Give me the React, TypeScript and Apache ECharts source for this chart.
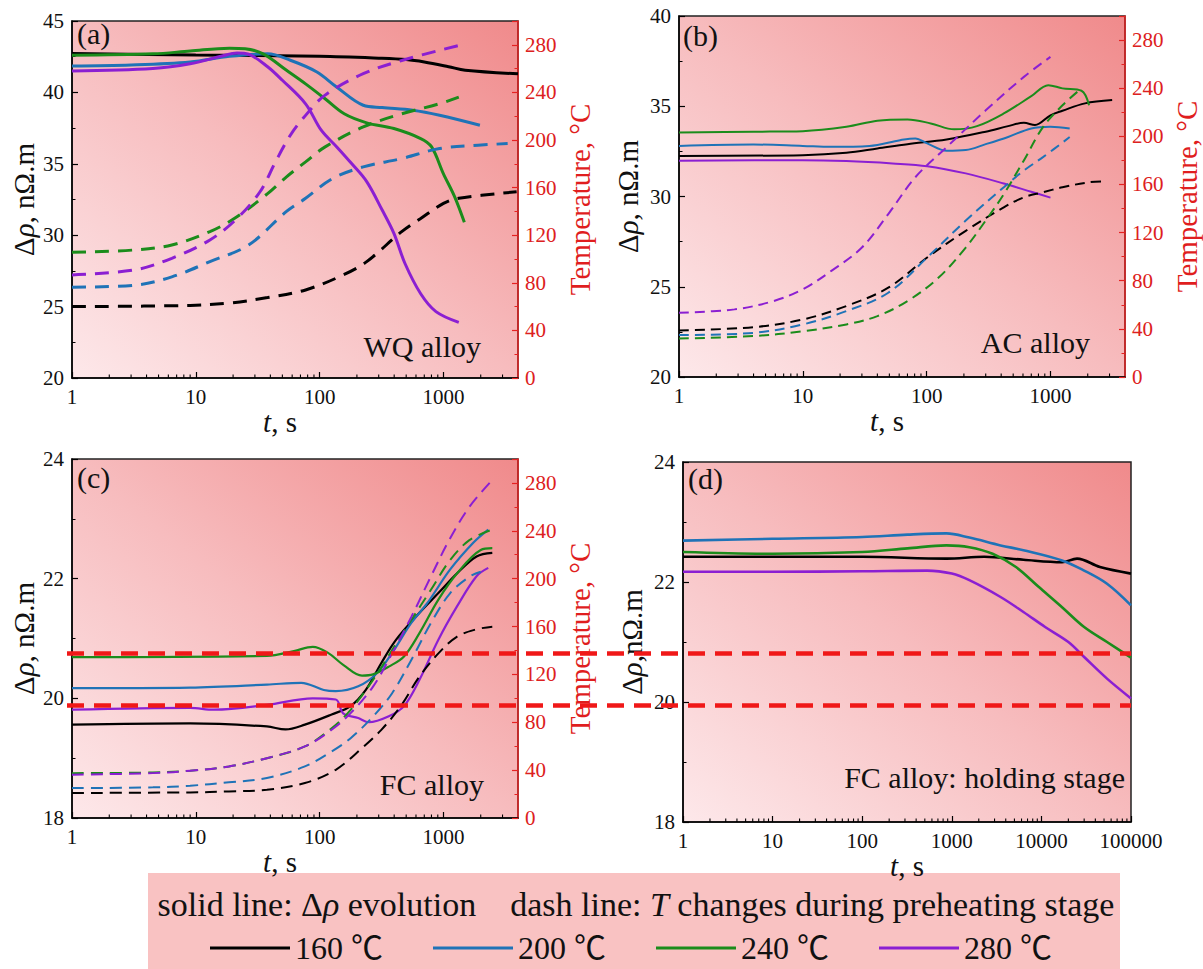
import React, { useEffect, useRef } from "react";
import * as echarts from "echarts";

const FONT = "'Liberation Serif', 'Times New Roman', Times, serif";
const LEGEND_FONT = "'Liberation Serif', 'Noto Sans CJK SC', serif";

// ---- legend / series meta ----
const tempNames = ["160 ℃", "200 ℃", "240 ℃", "280 ℃"];
const lineColors = ["#000000", "#1f73b7", "#1b8c1b", "#8b1fd2"];
const panelLetters = ["(a)", "(b)", "(c)", "(d)"];
const panelNotes = ["WQ alloy", "AC alloy", "FC alloy", "FC alloy: holding stage"];
const thresholds = [20.75, 19.88];

// ---- (a) WQ alloy: resistivity (t [s], Δρ [nΩ.m]) ----
const wqRho160 = [[1, 42.72], [10, 42.62], [100, 42.53], [300, 42.4], [500, 42.3], [700, 42.13], [1100, 41.8], [1500, 41.55], [4000, 41.3]];
const wqRho200 = [[1, 41.85], [3, 41.92], [9, 42.13], [18.7, 42.53], [38, 42.7], [58, 42.25], [95, 41.43], [137, 40.38], [225, 39.1], [320, 38.94], [565, 38.75], [930, 38.4], [1970, 37.7]];
const wqRho240 = [[1, 42.6], [4.5, 42.7], [9, 42.9], [18.7, 43.1], [25, 43.06], [35, 42.7], [54, 41.55], [77, 40.6], [110, 39.57], [158, 38.5], [240, 37.87], [398, 37.47], [655, 36.77], [800, 36.2], [1000, 34.3], [1230, 32.7], [1475, 30.9]];
const wqRho280 = [[1, 41.5], [4.5, 41.67], [9, 42.0], [16, 42.53], [21.5, 42.76], [26.7, 42.67], [38, 41.8], [50, 40.85], [77, 39.2], [103, 37.35], [137, 36.2], [182, 35.0], [240, 33.75], [320, 31.76], [398, 30.13], [490, 28.0], [655, 25.9], [870, 24.65], [1330, 23.9]];
// (a) temperature (°C)
const wqT160 = [[1, 60], [9, 61], [18.7, 63], [38, 67.6], [77, 74], [158, 87], [240, 97.8], [460, 123], [655, 134], [1000, 146.7], [1330, 151], [3900, 156.5]];
const wqT200 = [[1, 76.3], [3.2, 78], [6.4, 85], [13, 97.8], [26.7, 111.8], [54, 140], [77, 151], [127, 167.6], [225, 177.4], [460, 184.4], [930, 192.8], [1900, 195.6], [3300, 197]];
const wqT240 = [[1, 105.6], [3.2, 107.6], [6.4, 111.8], [13, 123], [21.5, 135.5], [38, 155], [54, 169], [77, 181.6], [110, 194], [225, 211], [460, 222], [930, 230.5], [1330, 236]];
const wqT280 = [[1, 86.6], [3.2, 90.8], [6.4, 100.6], [13, 116], [21.5, 134], [33, 156.5], [44, 181.6], [58, 204], [77, 220.7], [110, 237.5], [225, 255.7], [460, 266.8], [1330, 279.4]];

// ---- (b) AC alloy ----
const acRho160 = [[1, 32.25], [10, 32.29], [22.5, 32.42], [40, 32.66], [70, 32.9], [145, 33.16], [300, 33.59], [455, 33.9], [610, 34.08], [750, 33.96], [1000, 34.5], [1250, 34.75], [1900, 35.16], [3150, 35.34]];
const acRho200 = [[1, 32.8], [4, 32.88], [10, 32.8], [17, 32.75], [34.5, 32.8], [61, 33.12], [81, 33.22], [101, 32.94], [145, 32.53], [207, 32.57], [300, 32.9], [455, 33.3], [700, 33.77], [1000, 33.86], [1430, 33.77]];
const acRho240 = [[1, 33.55], [4, 33.59], [10, 33.62], [22.5, 33.86], [40, 34.2], [70, 34.27], [108, 34.05], [167, 33.72], [255, 33.9], [420, 34.6], [700, 35.56], [960, 36.17], [1250, 35.99], [1780, 35.86], [2050, 35.06]];
const acRho280 = [[1, 31.98], [10, 32.01], [22.5, 31.96], [53, 31.83], [101, 31.68], [207, 31.28], [420, 30.72], [700, 30.26], [1000, 29.94]];
const acT160 = [[1, 38.7], [4, 41.4], [10, 47.8], [22.5, 59], [49, 74.2], [101, 99.3], [207, 121.5], [420, 141], [610, 149.3], [870, 153.5], [1250, 157.7], [2050, 161.8], [2740, 162.4]];
const acT200 = [[1, 34.8], [4, 36.7], [10, 43.7], [22.5, 54.8], [49, 70], [101, 99.3], [207, 130], [420, 157.7], [610, 171.6], [870, 182.7], [1430, 199.4]];
const acT240 = [[1, 32], [4, 34], [10, 38], [22.5, 43.7], [40, 50.6], [70, 63.1], [125, 82.6], [207, 107.6], [300, 130], [420, 152], [610, 180], [870, 207.7], [1250, 225.8], [1650, 237]];
const acT280 = [[1, 53.4], [2.8, 56.2], [5.8, 63.1], [10, 72.9], [17, 88.2], [30, 107.6], [49, 135.4], [81, 166], [145, 191], [300, 221.6], [610, 249.4], [1000, 266]];

// ---- (c) FC alloy ----
const fcRho160 = [[1, 19.56], [9, 19.58], [37.5, 19.53], [53, 19.48], [76, 19.56], [125, 19.73], [178, 19.87], [236, 20.14], [315, 20.59], [415, 20.98], [640, 21.43], [910, 21.76], [1290, 22.09], [1850, 22.37], [2480, 22.43]];
const fcRho200 = [[1, 20.17], [9, 20.18], [37.5, 20.23], [71, 20.26], [108, 20.14], [135, 20.12], [205, 20.2], [290, 20.42], [385, 20.76], [550, 21.26], [740, 21.59], [1130, 22.15], [1740, 22.6], [2300, 22.82]];
const fcRho240 = [[1, 20.69], [37.5, 20.71], [62, 20.79], [88, 20.86], [117, 20.76], [155, 20.56], [220, 20.38], [270, 20.4], [362, 20.53], [480, 20.7], [640, 21.09], [910, 21.65], [1290, 22.09], [2000, 22.48], [2480, 22.51]];
const fcRho280 = [[1, 19.81], [9, 19.84], [14, 19.81], [37.5, 19.89], [88, 20.0], [135, 19.98], [155, 19.75], [205, 19.67], [250, 19.6], [362, 19.7], [480, 19.87], [640, 20.31], [910, 20.98], [1290, 21.54], [1850, 22.04], [2300, 22.18]];
const fcT160 = [[1, 20.9], [9, 21.4], [18.5, 22.2], [37.5, 23.6], [76, 29.2], [135, 40.3], [220, 58.4], [315, 73.7], [450, 93.2], [640, 118.2], [910, 137.6], [1290, 151.6], [1850, 157.7], [2480, 159.9]];
const fcT200 = [[1, 25], [4.5, 25.6], [9, 27], [18.5, 29.8], [37.5, 33.4], [76, 43.1], [125, 55.6], [178, 66.7], [270, 84.8], [385, 104.3], [550, 132.1], [790, 162.7], [1130, 187.7], [1620, 201.6], [2000, 205.8]];
const fcT240 = [[1, 37.5], [4.5, 38], [9, 39.5], [18.5, 43.1], [37.5, 50], [76, 59.8], [125, 75], [178, 90.4], [270, 115.4], [385, 140.4], [550, 165.5], [790, 190.5], [1130, 215.5], [1620, 232.2], [2400, 240.5]];
const fcT280 = [[1, 36.2], [4.5, 37.5], [9, 39.5], [18.5, 43.1], [37.5, 50], [76, 59.8], [125, 73.7], [178, 87.6], [270, 109.8], [385, 137.6], [550, 168], [790, 201.6], [1130, 233.6], [1620, 260], [2400, 280.9]];

// ---- (d) FC alloy: holding stage ----
const holdRho160 = [[1, 22.42], [100, 22.42], [870, 22.39], [2300, 22.42], [6300, 22.37], [17000, 22.33], [25000, 22.39], [45000, 22.25], [100000, 22.14]];
const holdRho200 = [[1, 22.69], [10, 22.72], [100, 22.75], [320, 22.79], [870, 22.81], [1570, 22.74], [3500, 22.61], [6300, 22.53], [17000, 22.36], [30000, 22.19], [54000, 21.97], [100000, 21.61]];
const holdRho240 = [[1, 22.5], [10, 22.47], [100, 22.5], [320, 22.56], [870, 22.61], [1570, 22.58], [2850, 22.47], [5200, 22.25], [9300, 21.92], [17000, 21.58], [30000, 21.25], [54000, 21.0], [100000, 20.74]];
const holdRho280 = [[1, 22.17], [10, 22.17], [100, 22.18], [530, 22.19], [1000, 22.14], [1570, 22.03], [3500, 21.75], [6300, 21.5], [11000, 21.25], [20000, 21.0], [30000, 20.75], [54000, 20.39], [100000, 20.06]];

const rhoSets = [
  [wqRho160, wqRho200, wqRho240, wqRho280],
  [acRho160, acRho200, acRho240, acRho280],
  [fcRho160, fcRho200, fcRho240, fcRho280],
  [holdRho160, holdRho200, holdRho240, holdRho280],
];
const tempSets = [
  [wqT160, wqT200, wqT240, wqT280],
  [acT160, acT200, acT240, acT280],
  [fcT160, fcT200, fcT240, fcT280],
];
const rhoRanges = [[20, 45, 5], [20, 40, 5], [18, 24, 2], [18, 24, 2]];
const tempRange = [0, 300, 40];
const xMax = [4000, 4000, 4000, 100000];

// ---- layout (pixels) ----
const grids = [
  { left: 72, top: 21, width: 446, height: 357 },
  { left: 679, top: 16, width: 446, height: 361 },
  { left: 72, top: 459, width: 446, height: 359 },
  { left: 683, top: 462, width: 448, height: 360 },
];
const rhoNameGap = [34, 37, 34, 37];
const solidWidth = [3, 2, 2.2, 2.6];
const dashWidth = [3, 2, 2];
const dashPattern = [[14, 9], [10, 6], [12, 7]];
const RED = "#e52222";

function bg() {
  return new echarts.graphic.LinearGradient(0, 1, 1, 0, [
    { offset: 0, color: "#fde8ea" },
    { offset: 0.5, color: "#f7bcbe" },
    { offset: 1, color: "#f08a8b" },
  ]);
}

function minorLogTicks(max: number) {
  const out: number[][] = [];
  for (let k = 0; k < 6; k++) {
    for (let m = 2; m <= 9; m++) {
      const v = m * Math.pow(10, k);
      if (v < max) out.push([v, 0]);
    }
  }
  return out;
}

const textBase = { fontFamily: FONT, color: "#111" };

function buildOption() {
  const xAxis: any[] = [];
  const yAxis: any[] = [];
  const series: any[] = [];
  const leftIdx: number[] = [];
  const rightIdx: number[] = [];

  grids.forEach((g, i) => {
    xAxis.push({
      type: "log",
      logBase: 10,
      gridIndex: i,
      min: 1,
      max: xMax[i],
      axisLine: { show: true, onZero: false, lineStyle: { color: "#000", width: 1.5 } },
      axisTick: { show: true, inside: true, length: 6, lineStyle: { color: "#000", width: 1.2 } },
      axisLabel: {
        ...textBase,
        fontSize: 21,
        margin: 8,
        showMaxLabel: i === 3,
        formatter: (v: number) => String(Math.round(v)),
      },
      splitLine: { show: false },
      name: "{i|t}, s",
      nameLocation: "middle",
      nameGap: 17,
      nameTextStyle: {
        ...textBase,
        fontSize: 29,
        padding: i === 3 ? 0 : [0, 30, 0, 0],
        rich: { i: { ...textBase, fontSize: 29, fontStyle: "italic" } },
      },
    });
    const [mn, mx, step] = rhoRanges[i];
    leftIdx.push(yAxis.length);
    yAxis.push({
      type: "value",
      gridIndex: i,
      position: "left",
      min: mn,
      max: mx,
      interval: step,
      axisLine: { show: true, onZero: false, lineStyle: { color: "#000", width: 1.5 } },
      axisTick: { show: true, inside: true, length: 6, lineStyle: { color: "#000", width: 1.2 } },
      minorTick: { show: true, splitNumber: 2, length: 3.5, lineStyle: { color: "#000", width: 1 } },
      axisLabel: { ...textBase, fontSize: 21, margin: 8 },
      splitLine: { show: false },
      name: i === 3 ? "{d|Δ}{r|ρ}{d|,nΩ.m}" : "{d|Δ}{r|ρ}{d|, nΩ.m}",
      nameLocation: "middle",
      nameGap: rhoNameGap[i],
      nameTextStyle: {
        ...textBase,
        fontSize: 29,
        rich: {
          d: { ...textBase, fontSize: 29 },
          r: { ...textBase, fontSize: 29, fontStyle: "italic" },
        },
      },
    });
    if (i < 3) {
      rightIdx.push(yAxis.length);
      yAxis.push({
        type: "value",
        gridIndex: i,
        position: "right",
        min: tempRange[0],
        max: tempRange[1],
        interval: tempRange[2],
        axisLine: { show: true, lineStyle: { color: RED, width: 1.5 } },
        axisTick: { show: true, inside: true, length: 6, lineStyle: { color: RED, width: 1.2 } },
        minorTick: { show: true, splitNumber: 2, length: 3.5, lineStyle: { color: RED, width: 1 } },
        axisLabel: { fontFamily: FONT, color: "#dd2020", fontSize: 21, margin: 7, showMaxLabel: false },
        splitLine: { show: false },
        name: "Temperature, °C",
        nameLocation: "middle",
        nameGap: 47,
        nameTextStyle: { fontFamily: FONT, color: "#e01e1e", fontSize: 29 },
      });
    }

    // Δρ solid lines
    rhoSets[i].forEach((d, k) => {
      series.push({
        type: "line",
        name: tempNames[k],
        xAxisIndex: i,
        yAxisIndex: leftIdx[i],
        data: d,
        smooth: 0.35,
        showSymbol: false,
        symbol: "none",
        color: lineColors[k],
        itemStyle: { color: lineColors[k] },
        lineStyle: { color: lineColors[k], width: solidWidth[i] },
        z: 3,
      });
    });
    // temperature dashed lines
    if (i < 3) {
      tempSets[i].forEach((d, k) => {
        series.push({
          type: "line",
          name: tempNames[k],
          xAxisIndex: i,
          yAxisIndex: rightIdx[i],
          data: d,
          smooth: 0.35,
          showSymbol: false,
          symbol: "none",
          color: lineColors[k],
          itemStyle: { color: lineColors[k] },
          lineStyle: { color: lineColors[k], width: dashWidth[i], type: dashPattern[i] },
          z: 3,
        });
      });
    }
    // log minor ticks on the x axis
    series.push({
      type: "custom",
      name: "minorTicks" + i,
      xAxisIndex: i,
      yAxisIndex: leftIdx[i],
      data: minorLogTicks(xMax[i]),
      silent: true,
      clip: false,
      z: 5,
      encode: { x: 0, y: 1 },
      renderItem: (params: any, api: any) => {
        const x = api.coord([api.value(0), rhoRanges[i][0]])[0];
        const cs = params.coordSys;
        const yb = cs.y + cs.height;
        return {
          type: "line",
          shape: { x1: x, y1: yb, x2: x, y2: yb - 3.5 },
          style: { stroke: "#000", lineWidth: 1.1 },
          silent: true,
        };
      },
    });
  });

  return {
    animation: false,
    backgroundColor: "#ffffff",
    textStyle: { fontFamily: FONT },
    grid: grids.map((g) => ({
      ...g,
      show: true,
      backgroundColor: bg(),
      borderColor: "#222",
      borderWidth: 1.5,
      containLabel: false,
    })),
    xAxis,
    yAxis,
    series,
    legend: {
      data: tempNames,
      left: 205,
      top: 927,
      icon: "rect",
      itemWidth: 80,
      itemHeight: 3,
      itemGap: 50,
      selectedMode: false,
      z: 10,
      textStyle: { fontFamily: LEGEND_FONT, color: "#111", fontSize: 32 },
    },
  };
}

function baseGraphics() {
  const letterPos = [[77, 33], [683, 35], [77, 477], [688, 478]];
  const notePos = [[481, 346], [1090, 342], [484, 784], [1125, 777]];
  const els: any[] = [
    {
      id: "legendBox",
      type: "rect",
      z: 0,
      shape: { x: 148, y: 873, width: 972, height: 96 },
      style: { fill: "#f9c2c2" },
      silent: true,
    },
    {
      id: "legendLine1",
      type: "text",
      z: 11,
      x: 636,
      y: 904,
      style: {
        text: "solid line: Δ{i|ρ} evolution\u00a0\u00a0\u00a0 dash line: {i|T} changes during preheating stage",
        fontFamily: FONT,
        fontSize: 34,
        fill: "#111",
        align: "center",
        textAlign: "center",
        verticalAlign: "middle",
        textVerticalAlign: "middle",
        rich: { i: { fontFamily: FONT, fontSize: 34, fontStyle: "italic", fill: "#111", color: "#111" } },
      },
    },
  ];
  panelLetters.forEach((t, i) => {
    els.push({
      id: "letter" + i,
      type: "text",
      z: 20,
      x: letterPos[i][0],
      y: letterPos[i][1],
      style: {
        text: t, fontFamily: FONT, fontSize: 30, fill: "#111",
        align: "left", textAlign: "left", verticalAlign: "middle", textVerticalAlign: "middle",
      },
    });
    els.push({
      id: "note" + i,
      type: "text",
      z: 20,
      x: notePos[i][0],
      y: notePos[i][1],
      style: {
        text: panelNotes[i], fontFamily: FONT, fontSize: 30, fill: "#111",
        align: "right", textAlign: "right", verticalAlign: "middle", textVerticalAlign: "middle",
      },
    });
  });
  return els;
}

export default function App() {
  const ref = useRef<HTMLDivElement>(null);
  useEffect(() => {
    document.body.style.margin = "0";
    if (!ref.current) return;
    const chart = echarts.init(ref.current, undefined, { renderer: "svg", width: 1203, height: 969 });
    const option: any = buildOption();
    option.graphic = baseGraphics();
    chart.setOption(option);

    // threshold dashed lines spanning panels (c) and (d), via panel (c) scale
    const cLeft = 4; // yAxis index of panel (c) left axis
    const dLeft = 6;
    const extra = thresholds.map((v, j) => {
      const p0 = chart.convertToPixel({ xAxisIndex: 2, yAxisIndex: cLeft } as any, [1, v]) as number[];
      const p1 = chart.convertToPixel({ xAxisIndex: 3, yAxisIndex: dLeft } as any, [100000, v]) as number[];
      return {
        id: "threshold" + j,
        type: "line",
        z: 100,
        silent: true,
        shape: { x1: p0[0] - 5, y1: p0[1], x2: p1[0], y2: p0[1] },
        style: { stroke: "#f01818", lineWidth: 4.5, lineDash: [17, 10] },
      };
    });
    chart.setOption({ graphic: [...baseGraphics(), ...extra] });
    return () => chart.dispose();
  }, []);
  return <div ref={ref} style={{ width: 1203, height: 969 }} />;
}
